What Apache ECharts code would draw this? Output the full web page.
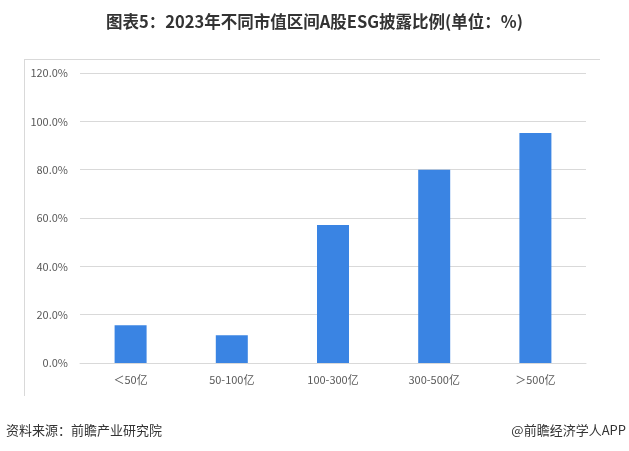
<!DOCTYPE html>
<html><head><meta charset="utf-8">
<script src="https://cdn.jsdelivr.net/npm/echarts@6/dist/echarts.min.js"></script>
<style>html,body{margin:0;padding:0;background:#fff}#c{width:629px;height:451px}</style>
</head><body><div id="c"></div>
<script>
const categories = ['＜50亿', '50-100亿', '100-300亿', '300-500亿', '＞500亿'];
const values = [15.6, 11.5, 57.1, 80.0, 95.2];
const yTicks = [0, 20, 40, 60, 80, 100, 120];

const chart = echarts.init(document.getElementById('c'));
chart.setOption({
  animation: false,
  backgroundColor: '#fff',
  title: {
    text: '图表5：2023年不同市值区间A股ESG披露比例(单位：%)',
    left: 'center', top: 8,
    textStyle: { fontFamily: 'Noto Sans CJK SC', fontSize: 16.5, fontWeight: 'bold', color: '#333' }
  },
  graphic: [
    { type: 'line', shape: { x1: 24, y1: 59.5, x2: 600, y2: 59.5 }, style: { stroke: '#d9d9d9', lineWidth: 1 } },
    { type: 'line', shape: { x1: 24.5, y1: 59, x2: 24.5, y2: 396 }, style: { stroke: '#d9d9d9', lineWidth: 1 } },
    { type: 'text', left: 6, top: 424, style: { text: '资料来源：前瞻产业研究院', fontFamily: 'Noto Sans CJK SC', fontSize: 13, fill: '#333' } },
    { type: 'text', right: 3, top: 424, style: { text: '@前瞻经济学人APP', fontFamily: 'Noto Sans CJK SC', fontSize: 13, fill: '#333' } }
  ],
  grid: { left: 80, right: 43, top: 73, bottom: 88, containLabel: false },
  xAxis: {
    type: 'category', data: categories,
    axisLine: { lineStyle: { color: '#d9d9d9' } },
    axisTick: { show: false },
    axisLabel: { color: '#595959', fontSize: 11, margin: 11, fontFamily: 'Noto Sans CJK SC' }
  },
  yAxis: {
    type: 'value', min: yTicks[0], max: yTicks[yTicks.length - 1], interval: 20,
    axisLine: { show: false }, axisTick: { show: false },
    splitLine: { lineStyle: { color: '#d9d9d9' } },
    axisLabel: { color: '#595959', fontSize: 11, margin: 12, fontFamily: 'Noto Sans CJK SC', formatter: v => v.toFixed(1) + '%' }
  },
  series: [{
    type: 'bar', data: values, barWidth: 32,
    itemStyle: { color: '#3A84E3' }
  }]
});
</script></body></html>
